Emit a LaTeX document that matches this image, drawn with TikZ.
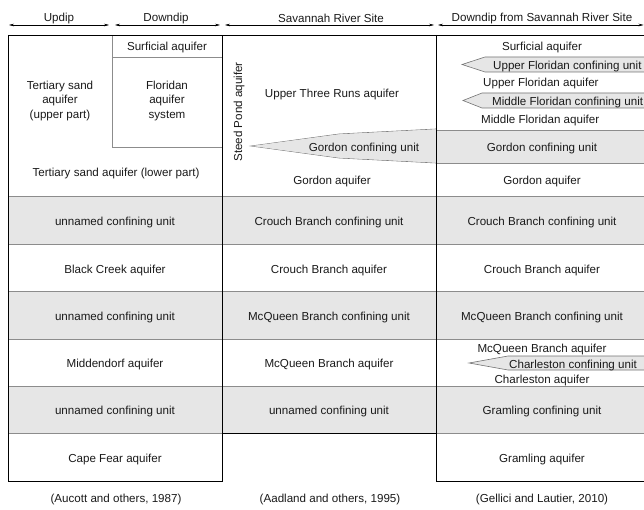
\documentclass[tikz,border=0pt]{standalone}
\usepackage{fontspec}
\setmainfont{Liberation Sans}
\usetikzlibrary{arrows.meta}
\definecolor{bandgray}{HTML}{E6E6E6}
\definecolor{rulegray}{HTML}{8C8C8C}
\definecolor{inkgray}{HTML}{1A1A1A}
\begin{document}
\begin{tikzpicture}[x=1pt,y=-1pt,
  txt/.style={font=\fontsize{11.6}{14.5}\selectfont, inner sep=0pt, text=inkgray, align=center},
  hdrarrow/.style={{Stealth[length=5pt,width=2.6pt]}-{Stealth[length=5pt,width=2.6pt]}, line width=0.5pt, black},
  frame/.style={line width=0.9pt, black},
  rule/.style={line width=0.6pt, rulegray},
  wedge/.style={fill=bandgray, draw=black!55, line width=0.6pt, line join=miter}]
\useasboundingbox (0,0) rectangle (644,510);

% gray bands
\fill[bandgray] (8,196) rectangle (644,244);
\fill[bandgray] (8,291) rectangle (644,339);
\fill[bandgray] (8,386) rectangle (644,433);
\fill[bandgray] (436,130) rectangle (644,163);

% wedges
\draw[wedge] (436,129) -- (339,134) -- (251,146) -- (339,158) -- (436,163);
\fill[bandgray] (436,129.3) -- (339,134.3) -- (252,146) -- (339,157.7) -- (436,162.7) -- cycle;
\draw[rule] (436,130) -- (644,130);
\draw[rule] (436,163) -- (644,163);
\draw[wedge] (650,57) -- (485,57) -- (462,64.5) -- (485,72) -- (650,72);
\draw[wedge] (650,93) -- (482,93) -- (463,100.5) -- (482,108) -- (650,108);
\draw[wedge] (650,356) -- (508,356) -- (469,363) -- (508,370) -- (650,370);

% row rules
\foreach \yy in {196,244,291,339,386} {\draw[rule] (8,\yy) -- (644,\yy);}
\draw[rule] (8,433) -- (222,433);
\draw[rule] (436,433) -- (644,433);

% downdip boxes in column 1
\draw[rule] (112,35) -- (112,147) -- (222,147);
\draw[rule] (112,57) -- (222,57);

% frame
\draw[frame] (8,35) -- (644,35);
\draw[frame] (8,35) -- (8,481) -- (222,481) -- (222,35);
\draw[frame] (222,433) -- (436,433);
\draw[frame] (436,35) -- (436,481) -- (644,481);

% header arrows
\coordinate (u1) at (9,25); \coordinate (u2) at (109,25);
\coordinate (d1) at (115,25); \coordinate (d2) at (220,25);
\coordinate (s1) at (225,25); \coordinate (s2) at (434,25);
\coordinate (r1) at (438,25); \coordinate (r2) at (643.5,25);
\draw[hdrarrow] (u1) -- (u2);
\draw[hdrarrow] (d1) -- (d2);
\draw[hdrarrow] (s1) -- (s2);
\draw[hdrarrow] (r1) -- (r2);

\node[txt, rotate=90] (steed) at (239,112) {Steed Pond aquifer};

\begin{scope}[yshift=-2.5pt]
\node[txt] (hupdip) at (59,16) {Updip};
\node[txt] (hdowndip) at (166,16) {Downdip};
\node[txt] (hsrs) at (331,16) {Savannah River Site};
\node[txt] (hdsrs) at (542,16) {Downdip from Savannah River Site};

% column 1
\node[txt] (surf1) at (167,45) {Surficial aquifer};
\node[txt] (flor) at (167,98.5) {Floridan\\aquifer\\system};
\node[txt] (tsu) at (60,98.5) {Tertiary sand\\aquifer\\(upper part)};
\node[txt] (tsl) at (116,171) {Tertiary sand aquifer (lower part)};
\node[txt] (c1a) at (115,220) {unnamed confining unit};
\node[txt] (c1b) at (115,268) {Black Creek aquifer};
\node[txt] (c1c) at (115,315) {unnamed confining unit};
\node[txt] (c1d) at (115,362) {Middendorf aquifer};
\node[txt] (c1e) at (115,409) {unnamed confining unit};
\node[txt] (c1f) at (115,457) {Cape Fear aquifer};

% column 2
\node[txt] (utr) at (332,92) {Upper Three Runs aquifer};
\node[txt] (gcu2) at (364,146) {Gordon confining unit};
\node[txt] (ga2) at (332,179) {Gordon aquifer};
\node[txt] (c2a) at (329,220) {Crouch Branch confining unit};
\node[txt] (c2b) at (329,268) {Crouch Branch aquifer};
\node[txt] (c2c) at (329,315) {McQueen Branch confining unit};
\node[txt] (c2d) at (329,362) {McQueen Branch aquifer};
\node[txt] (c2e) at (329,409) {unnamed confining unit};

% column 3
\node[txt] (surf3) at (542,45) {Surficial aquifer};
\node[txt, anchor=west] (ufcu) at (493,64.5) {Upper Floridan confining unit};
\node[txt, anchor=west] (ufa) at (483,81.5) {Upper Floridan aquifer};
\node[txt, anchor=west] (mfcu) at (492,100.5) {Middle Floridan confining unit};
\node[txt, anchor=west] (mfa) at (481,118.5) {Middle Floridan aquifer};
\node[txt] (gcu3) at (542,146) {Gordon confining unit};
\node[txt] (ga3) at (542,179) {Gordon aquifer};
\node[txt] (c3a) at (542,220) {Crouch Branch confining unit};
\node[txt] (c3b) at (542,268) {Crouch Branch aquifer};
\node[txt] (c3c) at (542,315) {McQueen Branch confining unit};
\node[txt] (mba3) at (542,347) {McQueen Branch aquifer};
\node[txt, anchor=west] (chcu) at (509,362.5) {Charleston confining unit};
\node[txt] (cha3) at (542,377.5) {Charleston aquifer};
\node[txt] (c3e) at (542,409) {Gramling confining unit};
\node[txt] (c3f) at (542,457) {Gramling aquifer};

% captions
\node[txt] (cap1) at (116,497) {(Aucott and others, 1987)};
\node[txt] (cap2) at (330,497) {(Aadland and others, 1995)};
\node[txt] (cap3) at (542,497) {(Gellici and Lautier, 2010)};
\end{scope}
\end{tikzpicture}
\end{document}
